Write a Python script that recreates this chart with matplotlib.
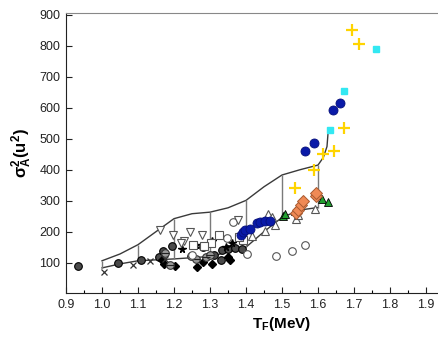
import matplotlib
matplotlib.use('Agg')
import matplotlib.pyplot as plt

plt.rcParams['font.family'] = ['Liberation Sans', 'DejaVu Sans']
plt.rcParams['mathtext.fontset'] = 'custom'
plt.rcParams['mathtext.rm'] = 'Liberation Sans'
plt.rcParams['mathtext.it'] = 'Liberation Sans:italic'
plt.rcParams['mathtext.bf'] = 'Liberation Sans:bold'

# envelope (band) curves
upper_x = [1.0, 1.05, 1.1, 1.15, 1.2, 1.25, 1.3, 1.35, 1.4, 1.45, 1.5, 1.55, 1.6, 1.615, 1.625, 1.628]
upper_y = [106, 128, 158, 200, 242, 258, 263, 277, 301, 345, 383, 400, 415, 440, 475, 520]
lower_x = [1.0, 1.05, 1.1, 1.2, 1.3, 1.35, 1.4, 1.45, 1.5, 1.55, 1.6]
lower_y = [83, 96, 106, 112, 120, 134, 150, 200, 246, 270, 278]
vert_x = [1.0, 1.1, 1.2, 1.3, 1.4, 1.5, 1.6]
vert_lo = [83, 106, 112, 120, 150, 246, 278]
vert_hi = [106, 158, 242, 263, 301, 383, 415]

# scattered data sets
filled_x = [0.934, 1.044, 1.108, 1.159, 1.170, 1.194, 1.280, 1.310, 1.332, 1.351, 1.369, 1.388, 1.330]
filled_y = [90, 99, 108, 117, 136, 153, 150, 125, 142, 144, 147, 144, 110]
diam_x = [1.166, 1.172, 1.203, 1.263, 1.281, 1.306, 1.356, 1.350]
diam_y = [110, 97, 88, 86, 101, 97, 110, 117]
star_x = [1.221, 1.261, 1.305, 1.360, 1.345]
star_y = [144, 158, 169, 165, 150]
cross_x = [1.006, 1.087, 1.133, 1.175]
cross_y = [70, 94, 104, 112]
minus_x = [1.175, 1.189, 1.247, 1.262, 1.290, 1.300]
minus_y = [130, 92, 120, 112, 118, 126]
open_circ_x = [1.346, 1.363, 1.402, 1.483, 1.527, 1.564, 1.250]
open_circ_y = [180, 230, 129, 120, 139, 158, 125]
dtri_x = [1.161, 1.196, 1.244, 1.277, 1.228, 1.219, 1.379]
dtri_y = [204, 190, 198, 190, 169, 163, 239]
sq_x = [1.252, 1.325, 1.303, 1.284, 1.391, 1.380]
sq_y = [158, 190, 163, 153, 174, 182]
utri_x = [1.462, 1.453, 1.416, 1.481, 1.539, 1.545, 1.592, 1.472]
utri_y = [257, 201, 187, 220, 241, 253, 273, 248]
blue_x = [1.385, 1.391, 1.397, 1.411, 1.430, 1.439, 1.453, 1.467, 1.564, 1.589, 1.642, 1.661]
blue_y = [190, 198, 206, 210, 228, 230, 233, 233, 461, 487, 594, 616]
green_x = [1.502, 1.508, 1.536, 1.542, 1.598, 1.610, 1.629]
green_y = [252, 256, 266, 276, 317, 305, 295]
orange_x = [1.539, 1.545, 1.552, 1.557, 1.594, 1.594]
orange_y = [260, 271, 287, 298, 314, 325]
yellow_x = [1.536, 1.589, 1.614, 1.644, 1.672, 1.694, 1.714]
yellow_y = [342, 398, 452, 461, 535, 851, 806]
cyan_x = [1.633, 1.672, 1.761]
cyan_y = [529, 655, 790]

x_ticks = [0.9, 1.0, 1.1, 1.2, 1.3, 1.4, 1.5, 1.6, 1.7, 1.8, 1.9]
x_minor = [0.95, 1.05, 1.15, 1.25, 1.35, 1.45, 1.55, 1.65, 1.75, 1.85]
y_ticks = [100, 200, 300, 400, 500, 600, 700, 800, 900]

fig = plt.figure(figsize=(4.39, 3.38), dpi=100)
ax = fig.add_axes([66 / 439, 45 / 338, 432 / 439, 280 / 338])

ax.plot(upper_x, upper_y, color='#3a3a3a', lw=1.0)
ax.plot(lower_x, lower_y, color='#3a3a3a', lw=1.0)
ax.vlines(vert_x, vert_lo, vert_hi, color='#7a7a7a', lw=1.0)

ax.plot(filled_x, filled_y, 'o', ms=5.5, mfc='#4a4a4a', mec='black', mew=0.8)
ax.plot(diam_x, diam_y, 'D', ms=4.5, mfc='black', mec='black')
ax.plot(star_x, star_y, '*', ms=5.5, mfc='black', mec='black')
ax.plot(cross_x, cross_y, 'x', ms=5, color='#333333', mew=0.9)
ax.plot(minus_x, minus_y, 'o', ms=5.5, mfc='#9a9a9a', mec='#333333', mew=0.8)
ax.plot(minus_x, minus_y, '_', ms=5.5, color='#222222', mew=0.8)
ax.plot(open_circ_x, open_circ_y, 'o', ms=5.5, mfc='white', mec='#555555', mew=0.8)
ax.plot(dtri_x, dtri_y, 'v', ms=6, mfc='white', mec='#555555', mew=0.8)
ax.plot(sq_x, sq_y, 's', ms=5.5, mfc='white', mec='#555555', mew=0.8)
ax.plot(utri_x, utri_y, '^', ms=6, mfc='white', mec='#555555', mew=0.8)
ax.plot(blue_x, blue_y, 'o', ms=6.5, mfc='#0a1aa8', mec='#06107a', mew=0.6)
ax.plot(green_x, green_y, '^', ms=5.5, mfc='#22a030', mec='black', mew=0.6)
ax.plot(orange_x, orange_y, 'D', ms=6, mfc='#f08a55', mec='#a85a30', mew=0.7)
ax.plot(yellow_x, yellow_y, '+', ms=9, color='#ffd400', mew=1.6)
ax.plot(cyan_x, cyan_y, 's', ms=5, mfc='#33e8f2', mec='#33e8f2')

ax.set_xlim(0.9, 2.1)
ax.set_ylim(2, 906)
ax.set_xticks(x_ticks)
ax.set_xticklabels([f'{v:.1f}' for v in x_ticks])
ax.set_xticks(x_minor, minor=True)
ax.set_yticks(y_ticks)
ax.tick_params(axis='both', direction='in', labelsize=9, colors='#222222', length=4, width=0.8)
ax.tick_params(axis='x', which='minor', direction='in', length=2, width=0.8)
ax.tick_params(axis='x', pad=4)
ax.tick_params(axis='y', pad=4)

for s in ['top', 'right']:
    ax.spines[s].set_color('#888888')
for s in ['left', 'bottom']:
    ax.spines[s].set_color('#222222')

ax.set_xlabel(r'$\mathbf{T_F}$(MeV)', fontsize=11, fontweight='bold', labelpad=3)
ax.set_ylabel(r'$\mathbf{\sigma_A^{2}(u^{2})}$', fontsize=12, fontweight='bold', labelpad=4)

fig.savefig('out.png', dpi=100)
